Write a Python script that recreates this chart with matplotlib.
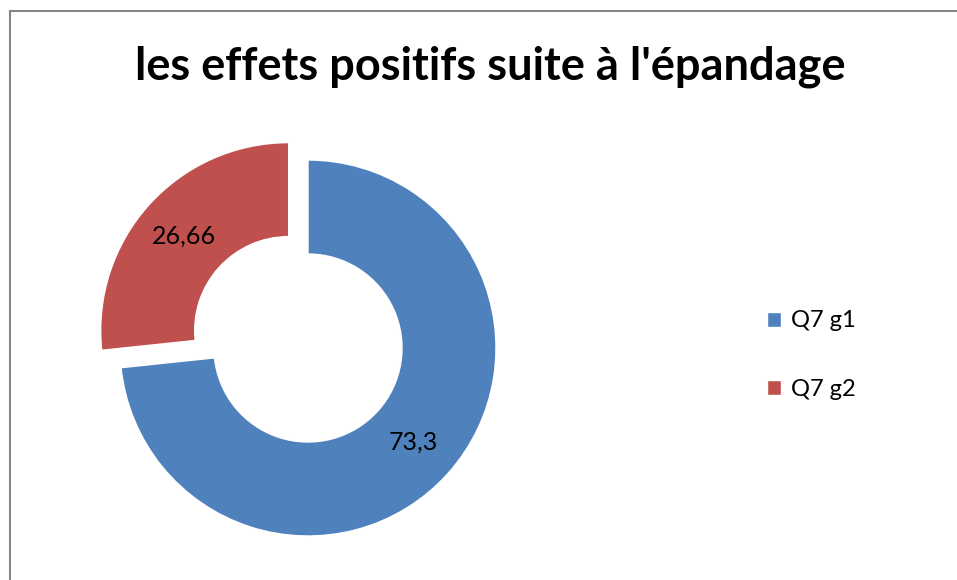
import matplotlib.pyplot as plt
from matplotlib.lines import Line2D

categories = ["Q7 g1", "Q7 g2"]
values = [73.3, 26.66]
value_labels = ["73,3", "26,66"]
colors = ["#4F81BD", "#C0504D"]

plt.rcParams['font.family'] = ['Lato', 'DejaVu Sans']

fig = plt.figure(figsize=(9.57, 5.8), dpi=100)
ax = fig.add_axes([0, 0, 1, 1])

# cadre (haut et gauche seulement)
fig.add_artist(Line2D([9.5 / 957, 1], [1 - 10.5 / 580, 1 - 10.5 / 580],
                      color='#868686', lw=1.5, transform=fig.transFigure))
fig.add_artist(Line2D([9.5 / 957, 9.5 / 957], [0, 1 - 10.5 / 580],
                      color='#868686', lw=1.5, transform=fig.transFigure))

wedges, texts = ax.pie(
    values,
    labels=value_labels,
    colors=colors,
    startangle=90,
    counterclock=False,
    explode=[0, 26],
    center=(308, 232),
    radius=188,
    labeldistance=0.75,
    wedgeprops=dict(width=94, edgecolor='white', linewidth=1),
    textprops=dict(fontsize=18, color='black'),
    frame=True,
)
for t in texts:
    t.set_ha('center')
    t.set_va('center')
ax.set_xlim(0, 957)
ax.set_ylim(0, 580)
ax.set_aspect('equal')
ax.axis('off')

fig.text(0.512, 1 - 67 / 580, "les effets positifs suite à l'épandage",
         ha='center', va='center', fontsize=32.5, fontweight='bold')

ax.legend(wedges, categories, loc='center left',
          bbox_to_anchor=(746 / 957, 1 - 355 / 580),
          bbox_transform=fig.transFigure,
          frameon=False, fontsize=17, handlelength=0.6, handleheight=0.6,
          handletextpad=0.4, labelspacing=2.0)

fig.savefig("out.png", dpi=100)
